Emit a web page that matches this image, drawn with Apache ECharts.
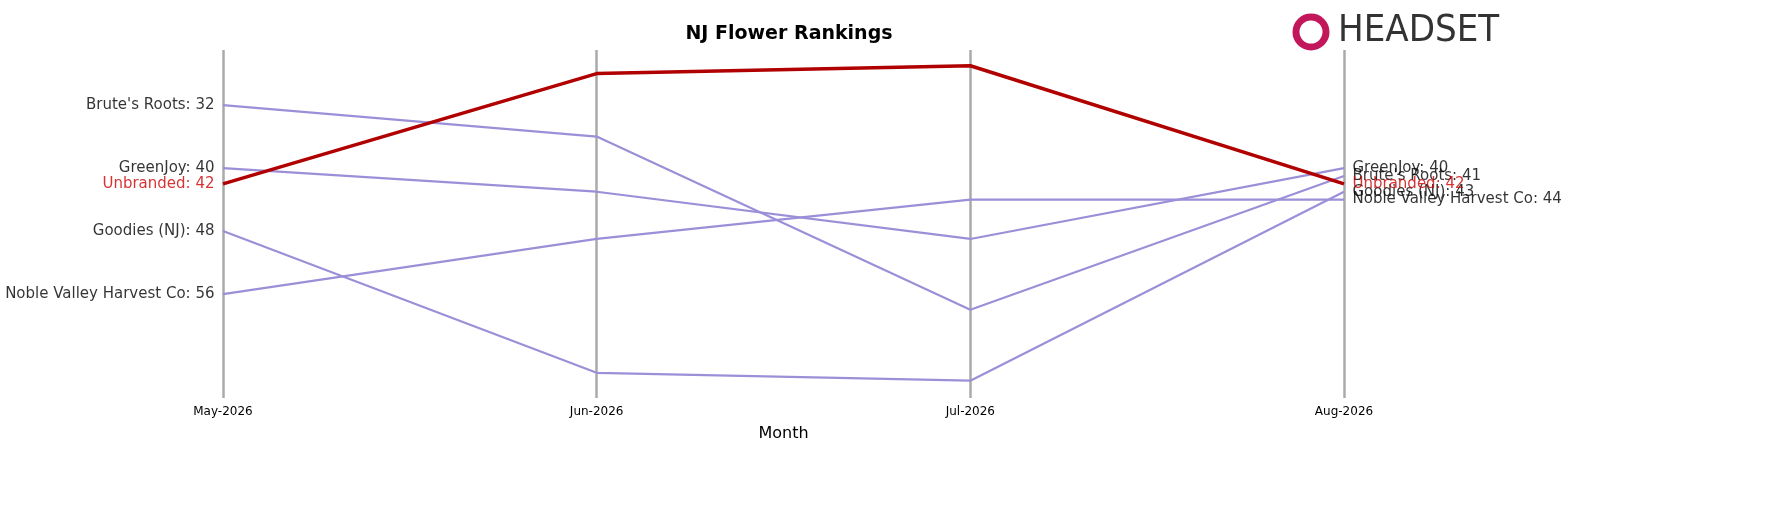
<!DOCTYPE html>
<html><head><meta charset="utf-8">
<script src="https://cdn.jsdelivr.net/npm/echarts@6/dist/echarts.min.js"></script>
<style>html,body{margin:0;padding:0;background:#fff}#c{width:1767px;height:506px}</style>
</head><body><div id="c"></div>
<script>
const months = ['May-2026','Jun-2026','Jul-2026','Aug-2026'];
const names = ["Brute's Roots","GreenJoy","Goodies (NJ)","Noble Valley Harvest Co","Unbranded"];
const brutes = [32,36,58,41];
const greenjoy = [40,43,49,40];
const goodies = [48,66,67,43];
const noble = [56,49,44,44];
const unbranded = [42,28,27,42];
const vals = [brutes,greenjoy,goodies,noble,unbranded];
const chart = echarts.init(document.getElementById('c'));
const series = [];
vals.forEach((v,i)=>{
  const hl = names[i]==='Unbranded';
  const col = hl ? '#b00000' : '#9b8fd8';
  const txt = hl ? '#cc0000' : '#000';
  series.push({type:'line', name:names[i], z: hl?5:2, symbol:'none',
    lineStyle:{color:col,width:hl?3.5:2.2}, data:v});
  series.push({type:'scatter', z:6, symbolSize:1, itemStyle:{color:'rgba(0,0,0,0)'},
    data:[[0,v[0]],[3,v[3]]].map((p,j)=>({value:p,label:{show:true,position:j?'right':'left',distance:8,
      formatter:names[i]+': '+p[1],color:txt,fontSize:15,fontFamily:'DejaVu Sans'}}))});
});
chart.setOption({
  animation:false,
  title:{text:'NJ Flower Rankings',left:784,top:20,textAlign:'center',textStyle:{fontSize:19,fontWeight:'bold',fontFamily:'DejaVu Sans',color:'#000'}},
  grid:{left:223,right:423,top:50,bottom:108},
  xAxis:{type:'category',data:months,boundaryGap:false,
    axisLine:{show:false},axisTick:{show:false},
    axisLabel:{fontSize:12,color:'#000',fontFamily:'DejaVu Sans',margin:8},
    splitLine:{show:true,lineStyle:{color:'#aaaaaa',width:2.5}},
    name:'Month',nameLocation:'middle',nameGap:28,nameTextStyle:{fontSize:16,color:'#000',fontFamily:'DejaVu Sans'}},
  yAxis:{type:'value',inverse:true,min:25,max:69.2,show:false},
  graphic:[{type:'text',left:1338,top:12,style:{text:'HEADSET',fontSize:38,fontFamily:'DejaVu Sans Condensed',fill:'#333'}},
    {type:'circle',shape:{cx:1311,cy:32,r:15},style:{fill:'none',stroke:'#c2185b',lineWidth:7}}],
  series
});
</script></body></html>
